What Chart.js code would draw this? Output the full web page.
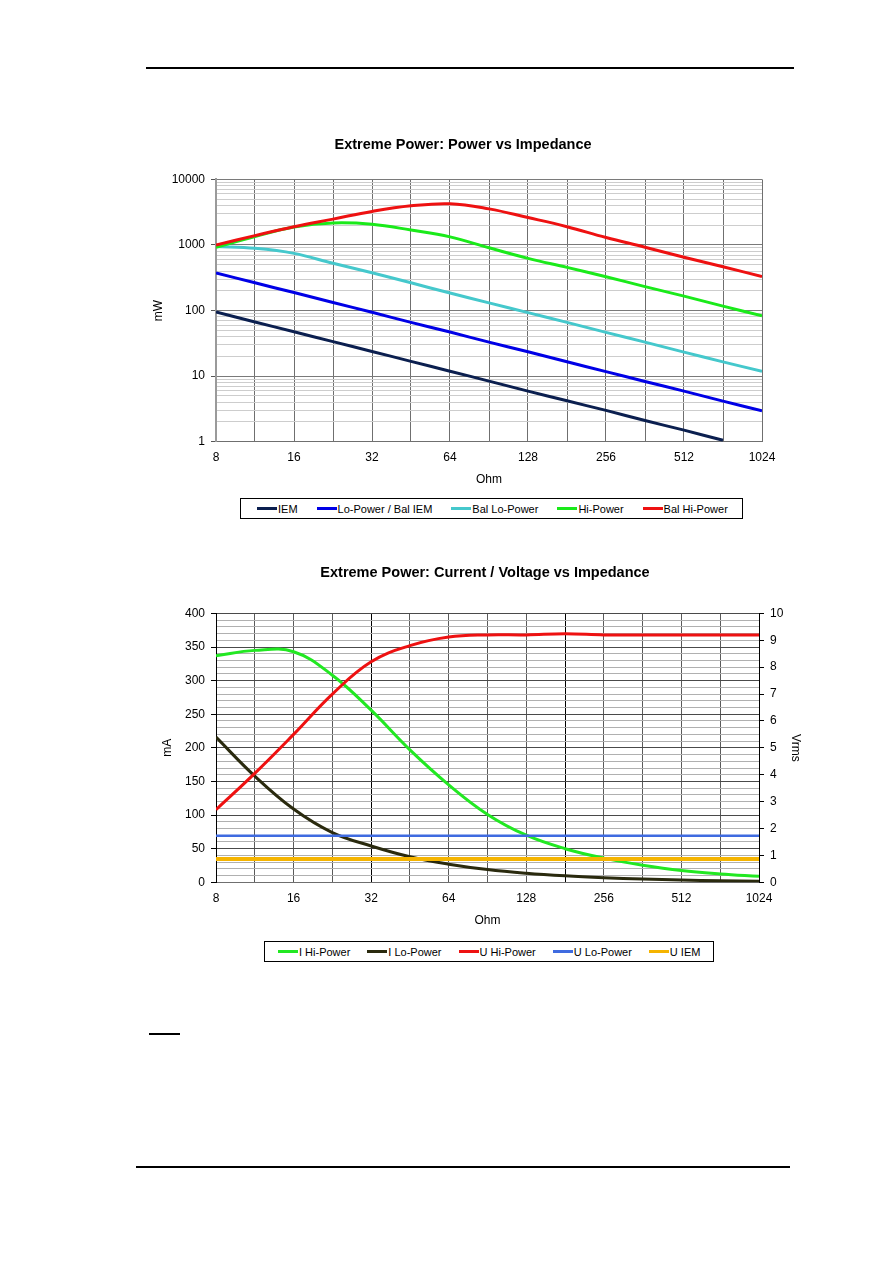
<!DOCTYPE html>
<html>
<head>
<meta charset="utf-8">
<script src="https://cdn.jsdelivr.net/npm/chart.js@4.4.1/dist/chart.umd.min.js"></script>
<style>
    body { margin: 0; background: #fff; width: 893px; height: 1263px; position: relative; font-family: "Liberation Sans", Arial, sans-serif; }
    .rule { position: absolute; background: #000; }
    canvas { position: absolute; }
    .legend { position: absolute; border: 1px solid #000; box-sizing: border-box; display: flex; align-items: center; font-size: 11px; color: #000; }
    .legend .item { display: flex; align-items: center; white-space: nowrap; }
    .legend .swatch { display: inline-block; width: 20px; height: 3px; margin-right: 1px; }
</style>
</head>
<body>
<div class="rule" style="left:146px; top:67px; width:648px; height:1.5px;"></div>
<div class="rule" style="left:136px; top:1166px; width:654px; height:2px;"></div>
<div class="rule" style="left:149px; top:1033px; width:31px; height:1.5px;"></div>

<canvas id="powerChart" width="680" height="370" style="left:130px; top:125px;"></canvas>
<div class="legend" id="powerLegend" style="left:240px; top:498px; width:503px; height:21px; padding-left:16px; gap:19px;"></div>

<canvas id="currentChart" width="690" height="380" style="left:130px; top:553px;"></canvas>
<div class="legend" id="currentLegend" style="left:264px; top:941px; width:450px; height:21px; padding-left:13px; gap:17px;"></div>

<script>
const ohms = [8, 11.31, 16, 22.63, 32, 45.25, 64, 90.51, 128, 181.02, 256, 362.04, 512, 724.08, 1024];
const ohmLabels = ['8', '16', '32', '64', '128', '256', '512', '1024'];

// chart 1: power in mW
const powerNames = ['IEM', 'Lo-Power / Bal IEM', 'Bal Lo-Power', 'Hi-Power', 'Bal Hi-Power'];
const powerColors = ['#0b1f4f', '#0000e6', '#45c8cc', '#1aea1a', '#ee1111'];
const iemPower = [95, 67, 47.5, 33.6, 23.8, 16.8, 11.9, 8.4, 5.9, 4.2, 3.0, 2.1, 1.5, 1.05, null];
const loPower = [375, 265, 188, 133, 94, 66, 47, 33, 23.5, 16.6, 11.7, 8.3, 5.9, 4.15, 2.95];
const balLoPower = [950, 890, 745, 525, 377, 265, 185, 131, 93, 66, 46.5, 33, 23.2, 16.5, 11.8];
const hiPower = [920, 1340, 1880, 2170, 2070, 1690, 1330, 905, 625, 455, 328, 232, 166, 117, 83];
const balHiPower = [1000, 1390, 1900, 2480, 3250, 3950, 4250, 3550, 2620, 1900, 1300, 925, 650, 465, 330];
const powerLabels = ['1', '10', '100', '1000', '10000'];

// chart 2: current in mA, voltage in Vrms
const currentNames = ['I Hi-Power', 'I Lo-Power', 'U Hi-Power', 'U Lo-Power', 'U IEM'];
const currentColors = ['#22e822', '#2a2a0e', '#ee1111', '#3f6be0', '#f5b400'];
const iHiPower = [337, 345, 343, 308, 256, 197, 145, 101, 70, 50, 36, 25.5, 17.5, 12.5, 9];
const iLoPower = [216, 158, 109, 74, 54, 38, 27, 19, 13.5, 9.6, 6.8, 4.8, 3.4, 2.4, 1.7];
const uHiPower = [2.7, 4.05, 5.5, 7.0, 8.2, 8.8, 9.12, 9.2, 9.2, 9.24, 9.2, 9.2, 9.2, 9.2, 9.2];
const uLoPower = [1.73, 1.73, 1.73, 1.73, 1.73, 1.73, 1.73, 1.73, 1.73, 1.73, 1.73, 1.73, 1.73, 1.73, 1.73];
const uIem = [0.87, 0.87, 0.87, 0.87, 0.87, 0.87, 0.87, 0.87, 0.87, 0.87, 0.87, 0.87, 0.87, 0.87, 0.87];

const font = 'Liberation Sans, Arial, sans-serif';

function buildLegend(id, names, colors) {
    const box = document.getElementById(id);
    names.forEach((name, i) => {
        const item = document.createElement('span');
        item.className = 'item';
        item.innerHTML = '<span class="swatch" style="background:' + colors[i] + '"></span>' + name;
        box.appendChild(item);
    });
}

function ohmAxis(height, titlePad) {
    return {
        type: 'logarithmic',
        min: 8,
        max: 1024,
        afterBuildTicks: axis => { axis.ticks = ohms.map(v => ({ value: v })); },
        afterFit: scale => { scale.height = height; },
        ticks: {
            autoSkip: false,
            maxRotation: 0,
            padding: 9,
            color: '#000',
            font: { family: font, size: 12 },
            callback: v => ohmLabels.includes(String(v)) ? String(v) : ''
        },
        grid: { drawTicks: false, color: '#6f6f6f', lineWidth: 1 },
        border: { color: '#6f6f6f' },
        title: { display: true, text: 'Ohm', color: '#000', font: { family: font, size: 12 }, padding: { top: 0, bottom: titlePad } }
    };
}

function drawPowerChart() {
    const series = [iemPower, loPower, balLoPower, hiPower, balHiPower];
    const yTicks = [];
    for (let p = 1; p <= 1000; p *= 10) {
        for (let m = 1; m < 10; m++) yTicks.push(m * p);
    }
    yTicks.push(10000);

    return new Chart(document.getElementById('powerChart'), {
        type: 'line',
        data: {
            labels: ohms,
            datasets: series.map((d, i) => ({
                label: powerNames[i],
                data: d,
                borderColor: powerColors[i],
                backgroundColor: powerColors[i],
                borderWidth: 3,
                pointRadius: 0,
                tension: 0.4,
                order: series.length - i
            }))
        },
        options: {
            responsive: false,
            animation: false,
            devicePixelRatio: 1,
            layout: { padding: { left: 34, right: 48, top: 0, bottom: 0 } },
            plugins: {
                legend: { display: false },
                tooltip: { enabled: false },
                title: {
                    display: true,
                    text: 'Extreme Power: Power vs Impedance',
                    color: '#000',
                    font: { family: font, size: 14.5, weight: 'bold' },
                    padding: { top: 11, bottom: 26 }
                }
            },
            scales: {
                x: ohmAxis(53.3, 7.8),
                y: {
                    type: 'logarithmic',
                    min: 1,
                    max: 10000,
                    afterBuildTicks: axis => { axis.ticks = yTicks.map(v => ({ value: v })); },
                    afterFit: scale => { scale.width = 52; },
                    ticks: {
                        autoSkip: false,
                        padding: 6,
                        color: '#000',
                        font: { family: font, size: 12 },
                        callback: v => powerLabels.includes(String(v)) ? String(v) : ''
                    },
                    grid: {
                        tickLength: 5,
                        color: c => powerLabels.includes(String(c.tick.value)) ? '#7a7a7a' : '#cdcdcd',
                        tickColor: c => powerLabels.includes(String(c.tick.value)) ? '#555' : 'rgba(0,0,0,0)'
                    },
                    border: { color: '#9a9a9a', width: 2 },
                    title: { display: true, text: 'mW', color: '#000', font: { family: font, size: 12 }, padding: { top: -13, bottom: 0 } }
                }
            }
        }
    });
}

function drawCurrentChart() {
    const series = [iHiPower, iLoPower, uHiPower, uLoPower, uIem];
    const widths = [3, 3, 3, 2.5, 4];
    const axes = ['y', 'y', 'y2', 'y2', 'y2'];

    const xAxis = ohmAxis(50.7, 4.8);
    xAxis.grid.color = c => (c.tick.value === 32 || c.tick.value === 181.02) ? '#000' : '#5a5a5a';

    return new Chart(document.getElementById('currentChart'), {
        type: 'line',
        data: {
            labels: ohms,
            datasets: series.map((d, i) => ({
                label: currentNames[i],
                data: d,
                yAxisID: axes[i],
                borderColor: currentColors[i],
                backgroundColor: currentColors[i],
                borderWidth: widths[i],
                pointRadius: 0,
                tension: 0.4,
                order: series.length - i
            }))
        },
        options: {
            responsive: false,
            animation: false,
            devicePixelRatio: 1,
            layout: { padding: { left: 20, right: 0, top: 0, bottom: 0 } },
            plugins: {
                legend: { display: false },
                tooltip: { enabled: false },
                title: {
                    display: true,
                    text: 'Extreme Power: Current / Voltage vs Impedance',
                    color: '#000',
                    font: { family: font, size: 14.5, weight: 'bold' },
                    padding: { top: 11, bottom: 32 }
                }
            },
            scales: {
                x: xAxis,
                y: {
                    position: 'left',
                    min: 0,
                    max: 400,
                    afterFit: scale => { scale.width = 66; },
                    ticks: {
                        stepSize: 10,
                        autoSkip: false,
                        padding: 6,
                        color: '#000',
                        font: { family: font, size: 12 },
                        callback: v => v % 50 === 0 ? String(v) : ''
                    },
                    grid: {
                        tickLength: 5,
                        color: c => c.tick.value % 50 === 0 ? '#4a4a4a' : '#b0b0b0',
                        tickColor: c => c.tick.value % 50 === 0 ? '#000' : 'rgba(0,0,0,0)'
                    },
                    border: { color: '#000' },
                    title: { display: true, text: 'mA', color: '#000', font: { family: font, size: 12 }, padding: { top: 10.8, bottom: 0 } }
                },
                y2: {
                    position: 'right',
                    min: 0,
                    max: 10,
                    afterFit: scale => { scale.width = 61; },
                    ticks: {
                        stepSize: 1,
                        padding: 6,
                        color: '#000',
                        font: { family: font, size: 12 }
                    },
                    grid: { drawOnChartArea: false, tickLength: 5, tickColor: '#000' },
                    border: { color: '#000' },
                    title: { display: true, text: 'Vrms', color: '#000', font: { family: font, size: 12 }, padding: { top: 17, bottom: 0 } }
                }
            }
        }
    });
}

buildLegend('powerLegend', powerNames, powerColors);
buildLegend('currentLegend', currentNames, currentColors);
drawPowerChart();
drawCurrentChart();
</script>
</body>
</html>
